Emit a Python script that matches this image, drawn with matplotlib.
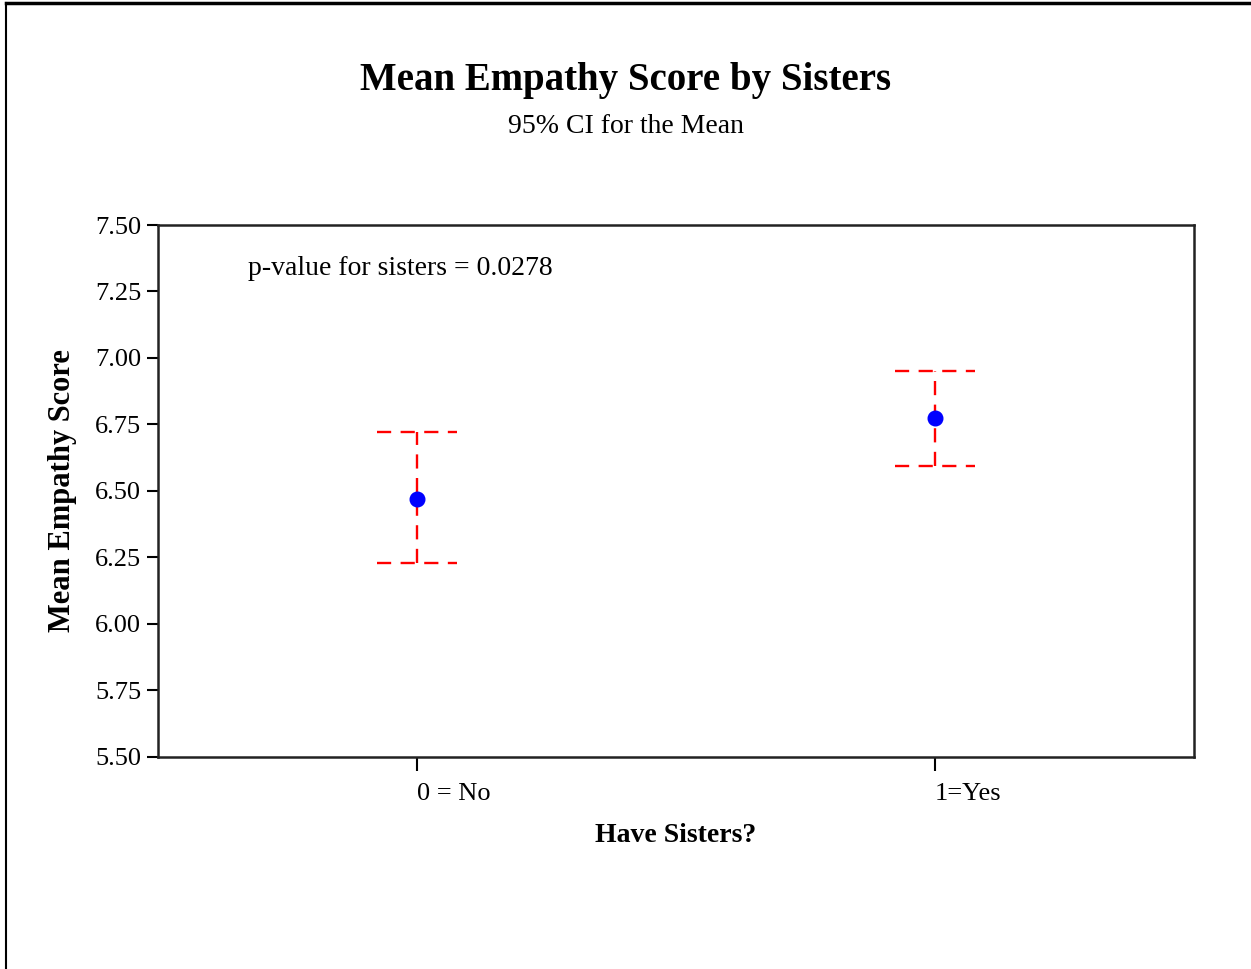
import numpy as np
import matplotlib
matplotlib.use("Agg")
import matplotlib.pyplot as plt
from matplotlib.lines import Line2D

# groups and 95% CI
groups = ["0 = No", "1=Yes"]
means = [6.47, 6.775]
ci_low = [6.23, 6.595]
ci_high = [6.72, 6.95]
p_value = "0.0278"

plt.rcParams['font.family'] = ['Liberation Serif', 'DejaVu Serif']

fig = plt.figure(figsize=(12.51, 9.69), dpi=100)
ax = fig.add_axes([0.1263, 0.2188, 0.8281, 0.549])

xs = np.arange(len(groups))
cap = 0.077
dash = (0, (6, 4))
ax.vlines(xs, ci_low, ci_high, colors='red', linestyles=dash, linewidth=1.7)
ax.hlines(ci_high, xs - cap, xs + cap, colors='red', linestyles=dash, linewidth=1.7)
ax.hlines(ci_low, xs - cap, xs + cap, colors='red', linestyles=dash, linewidth=1.7)
ax.plot(xs, means, 'o', color='blue', markersize=10.5, zorder=3)

yt = np.arange(5.5, 7.51, 0.25)
ax.set_xlim(-0.5, 1.5)
ax.set_ylim(5.5, 7.5)
ax.set_yticks(yt)
ax.set_yticklabels([f"{v:.2f}" for v in yt], fontsize=19)
ax.set_xticks(xs)
ax.set_xticklabels(groups, fontsize=19, ha='left')

ax.tick_params(axis='y', direction='out', length=8, width=1.5, pad=4)
ax.tick_params(axis='x', direction='out', length=10, width=1.5, pad=8.5)
for s in ax.spines.values():
    s.set_linewidth(1.8)
    s.set_color('#222222')

ax.set_xlabel("Have Sisters?", fontsize=20, fontweight='bold', labelpad=13)
ax.set_ylabel("Mean Empathy Score", fontsize=22, fontweight='bold', labelpad=13)

ax.text(0.087, 0.919, "p-value for sisters = " + p_value, transform=ax.transAxes,
        fontsize=20, va='center', ha='left')

fig.text(0.5, 0.917, "Mean Empathy Score by Sisters", fontsize=28,
         fontweight='bold', ha='center', va='center')
fig.text(0.5, 0.869, "95% CI for the Mean", fontsize=20, ha='center', va='center')

# outer frame (left and top edges)
fig.add_artist(Line2D([0.005, 0.005], [0, 0.997], transform=fig.transFigure, color='black', linewidth=1.5))
fig.add_artist(Line2D([0.005, 1.0], [0.997, 0.997], transform=fig.transFigure, color='black', linewidth=2.5))

fig.savefig("out.png", dpi=100)
